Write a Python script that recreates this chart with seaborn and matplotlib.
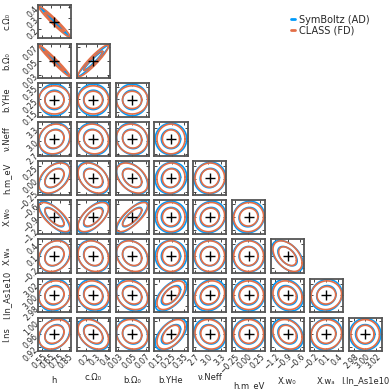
import numpy as np
import matplotlib
matplotlib.use("Agg")
import matplotlib.pyplot as plt
import seaborn as sns
from matplotlib.lines import Line2D

sns.set_style("ticks")
plt.rcParams['font.family'] = ['DejaVu Sans']

# parameter names, fiducial values and 1-sigma (CLASS finite differences)
names = ["h", "c.Ω₀", "b.Ω₀", "b.YHe", "ν.Neff", "h.m_eV", "X.w₀", "X.wₐ", "I.ln_As1e10", "I.ns"]
centers = [0.69, 0.27, 0.05, 0.245, 3.044, 0.02, -0.9, 0.1, 3.0, 0.96]
sigma_fd = [0.072, 0.056, 0.0092, 0.046, 0.138, 0.12, 0.14, 0.155, 0.0103, 0.0185]
# SymBoltz (automatic differentiation) sigma relative to CLASS
sigma_ratio = [0.98, 1.03, 0.99, 1.12, 1.06, 1.05, 1.08, 1.03, 1.10, 1.07]
ticks = [[0.55, 0.65, 0.75, 0.85], [0.2, 0.3, 0.4], [0.03, 0.05, 0.07], [0.15, 0.25, 0.35],
         [2.7, 3.0, 3.3], [-0.25, 0.0, 0.25], [-1.2, -0.9, -0.6], [-0.2, 0.1, 0.4],
         [2.98, 3.00, 3.02], [0.92, 0.96, 1.00]]
ticklabels = [["0.55", "0.65", "0.75", "0.85"], ["0.2", "0.3", "0.4"], ["0.03", "0.05", "0.07"],
              ["0.15", "0.25", "0.35"], ["2.7", "3.0", "3.3"], ["−0.25", "0.00", "0.25"],
              ["−1.2", "−0.9", "−0.6"], ["−0.2", "0.1", "0.4"], ["2.98", "3.00", "3.02"],
              ["0.92", "0.96", "1.00"]]

# correlation coefficients (row i, col j with j < i)
corr_fd = {
    (1, 0): -0.97,
    (2, 0): -0.98, (2, 1): 0.93,
    (3, 0): 0.0, (3, 1): 0.0, (3, 2): 0.0,
    (4, 0): 0.12, (4, 1): -0.08, (4, 2): -0.08, (4, 3): 0.0,
    (5, 0): 0.4, (5, 1): -0.35, (5, 2): -0.4, (5, 3): 0.05, (5, 4): 0.02,
    (6, 0): -0.7, (6, 1): 0.6, (6, 2): 0.75, (6, 3): 0.0, (6, 4): 0.1, (6, 5): 0.05,
    (7, 0): 0.2, (7, 1): -0.15, (7, 2): -0.2, (7, 3): 0.0, (7, 4): 0.0, (7, 5): 0.0, (7, 6): -0.45,
    (8, 0): 0.1, (8, 1): -0.1, (8, 2): -0.2, (8, 3): 0.55, (8, 4): 0.15, (8, 5): 0.0, (8, 6): -0.15, (8, 7): 0.05,
    (9, 0): 0.25, (9, 1): -0.35, (9, 2): -0.1, (9, 3): 0.5, (9, 4): -0.1, (9, 5): 0.0, (9, 6): -0.2, (9, 7): 0.05, (9, 8): 0.0,
}
corr_shift_ad = 0.04

blue = "#009AFA"
orange = "#E36F47"
levels = [1.52, 2.48]  # 68% and 95% in 2D

fig, axes = plt.subplots(9, 9, figsize=(3.9, 3.9), dpi=100)
fig.subplots_adjust(left=0.097, right=0.979, top=0.987, bottom=0.10, wspace=0.17, hspace=0.17)
t = np.linspace(0, 2 * np.pi, 200)


def ellipse(cx, cy, sx, sy, rho, r):
    cov = np.array([[sx**2, rho * sx * sy], [rho * sx * sy, sy**2]])
    L = np.linalg.cholesky(cov)
    pts = L @ np.vstack([np.cos(t), np.sin(t)]) * r
    return cx + pts[0], cy + pts[1]


for row in range(9):
    for col in range(9):
        ax = axes[row, col]
        if col > row:
            ax.axis("off")
            continue
        py, px = row + 1, col
        rho = corr_fd[(py, px)]
        rho_ad = np.clip(rho + corr_shift_ad * np.sign(rho), -0.995, 0.995)
        for col_c, sx, sy, rr in [(blue, sigma_fd[px] * sigma_ratio[px], sigma_fd[py] * sigma_ratio[py], rho_ad),
                                  (orange, sigma_fd[px], sigma_fd[py], rho)]:
            for r in levels:
                x, y = ellipse(centers[px], centers[py], sx, sy, rr, r)
                sns.lineplot(x=x, y=y, sort=False, estimator=None, color=col_c, lw=1.2, ax=ax)
        ax.plot(centers[px], centers[py], marker="+", color="black", ms=7, mew=1.0)
        hx = 2.62 * sigma_fd[px] * max(1.0, sigma_ratio[px])
        hy = 2.62 * sigma_fd[py] * max(1.0, sigma_ratio[py])
        ax.set_xlim(centers[px] - hx, centers[px] + hx)
        ax.set_ylim(centers[py] - hy, centers[py] + hy)
        ax.set_xticks(ticks[px])
        ax.set_yticks(ticks[py])
        ax.tick_params(direction="in", length=2.5, width=0.6, top=True, right=True, labelsize=5.5, pad=1)
        for s in ax.spines.values():
            s.set_linewidth(1.3)
            s.set_color("#555555")
        if row == 8:
            ax.set_xticklabels(ticklabels[px], rotation=45, ha="right", rotation_mode="anchor")
            ax.set_xlabel(names[px], fontsize=6, labelpad=4)
        else:
            ax.set_xticklabels([])
            ax.set_xlabel("")
        if col == 0:
            ax.set_yticklabels(ticklabels[py], rotation=45, ha="right", rotation_mode="anchor")
            ax.set_ylabel(names[py], fontsize=6)
            ax.yaxis.set_label_coords(-0.8, 0.5)
        else:
            ax.set_yticklabels([])
            ax.set_ylabel("")

handles = [Line2D([], [], color=blue, lw=2), Line2D([], [], color=orange, lw=2)]
fig.legend(handles, ["SymBoltz (AD)", "CLASS (FD)"], loc="upper right", bbox_to_anchor=(0.97, 0.985),
           frameon=False, fontsize=7, handlelength=0.4, handletextpad=0.4, labelspacing=0.1)

fig.savefig("out.png", dpi=100)
